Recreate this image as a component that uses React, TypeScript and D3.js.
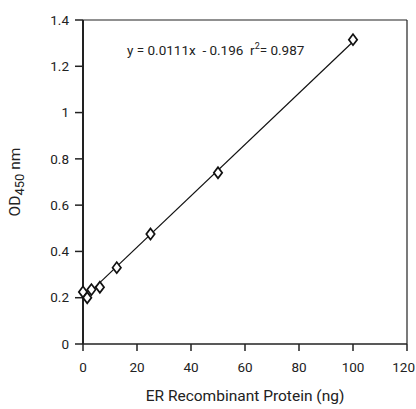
import * as d3 from "d3";

const proteinNg = [0, 1.5625, 3.125, 6.25, 12.5, 25, 50, 100];
const od450 = [0.225, 0.2, 0.235, 0.245, 0.33, 0.475, 0.74, 1.315];
const xTicks = [0, 20, 40, 60, 80, 100, 120];
const yTicks = [0, 0.2, 0.4, 0.6, 0.8, 1, 1.2, 1.4];
const fitSlope = 0.0111;
const fitIntercept = 0.196;
const fitRange = [3.5, 100];

const W = 416;
const H = 409;
const M = { top: 20, right: 9, bottom: 65, left: 83 };
const FONT = "Roboto, 'Open Sans', sans-serif";

export default function App() {
  const innerW = W - M.left - M.right;
  const innerH = H - M.top - M.bottom;

  const x = d3.scaleLinear().domain([0, 120]).range([M.left, M.left + innerW]);
  const y = d3.scaleLinear().domain([0, 1.4]).range([M.top + innerH, M.top]);

  const line = d3.line<number>()
    .x(d => x(d))
    .y(d => y(fitSlope * d + fitIntercept));

  const diamond = d3.symbol().type(d3.symbolDiamond2).size(62)() as string;

  const x0 = M.left, x1 = M.left + innerW, y0 = M.top + innerH, y1 = M.top;

  return (
    <svg width={W} height={H} style={{ position: "absolute", left: 0, top: 0, background: "#fff" }}
      fontFamily={FONT}>
      {/* frame */}
      <line x1={x0} x2={x1} y1={y1} y2={y1} stroke="#222" strokeWidth={1.2} />
      <line x1={x1} x2={x1} y1={y1} y2={y0} stroke="#222" strokeWidth={1.2} />
      {/* axes */}
      <line x1={x0} x2={x1} y1={y0} y2={y0} stroke="#222" strokeWidth={1.5} />
      <line x1={x0} x2={x0} y1={y1} y2={y0} stroke="#222" strokeWidth={2} />

      {yTicks.map(t => (
        <g key={t} transform={`translate(0,${y(t)})`}>
          <line x1={x0 - 8} x2={x0} stroke="#222" strokeWidth={1.5} />
          <text x={x0 - 14} dy="0.35em" textAnchor="end" fontSize={13.5} fill="#222">{t}</text>
        </g>
      ))}
      {xTicks.map((t, i) => {
        const last = i === xTicks.length - 1;
        return (
          <g key={t} transform={`translate(${x(t)},0)`}>
            <line y1={y0} y2={y0 + 7} stroke="#222" strokeWidth={1.5} />
            <text x={last ? W - 1 - x(t) : 0} y={372} textAnchor={last ? "end" : "middle"}
              fontSize={13.5} fill="#222">{t}</text>
          </g>
        );
      })}

      <path d={line(fitRange) ?? ""} fill="none" stroke="#111" strokeWidth={1.2} />

      {proteinNg.map((d, i) => (
        <path key={i} d={diamond} transform={`translate(${x(d)},${y(od450[i])}) scale(0.85,1.12)`}
          fill="#fff" stroke="#111" strokeWidth={1.8} />
      ))}

      <text x={127} y={55} fontSize={13.5} fill="#222" xmlSpace="preserve">
        {"y = 0.0111x  - 0.196  r"}<tspan dy={-6} fontSize={9}>2</tspan><tspan dy={6}>{"= 0.987"}</tspan>
      </text>

      <text x={(x0 + x1) / 2} y={401} textAnchor="middle" fontSize={15.5} fill="#222">
        ER Recombinant Protein (ng)
      </text>
      <text transform={`translate(20,${(y0 + y1) / 2}) rotate(-90)`} textAnchor="middle" fontSize={15.5} fill="#222">
        OD<tspan fontSize={13} dy={4}>450</tspan><tspan dy={-4}> nm</tspan>
      </text>
    </svg>
  );
}
